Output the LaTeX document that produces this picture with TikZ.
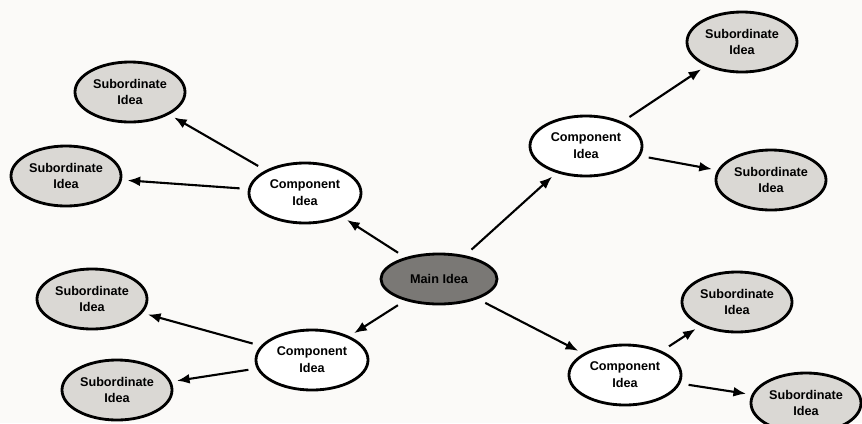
\documentclass[tikz,border=0pt]{standalone}
\usepackage{fontspec}
\setmainfont{Liberation Sans}
\usetikzlibrary{shapes.geometric,arrows.meta}
\definecolor{paper}{HTML}{FBFAF8}
\definecolor{subgray}{HTML}{DAD8D4}
\definecolor{maingray}{HTML}{7A7875}

\tikzset{
  idea/.style={ellipse, draw=black, line width=2pt, inner sep=0pt,
    align=center, font=\fontsize{9}{12}\selectfont\bfseries},
  mainidea/.style={idea, fill=maingray, minimum width=2.9cm, minimum height=1.25cm},
  compidea/.style={idea, fill=white, minimum width=2.8cm, minimum height=1.5cm},
  subidea/.style={idea, fill=subgray, minimum width=2.75cm, minimum height=1.5cm},
  link/.style={-{Latex[length=9pt,width=7pt]}, line width=1.5pt,
    shorten <=6pt, shorten >=4pt}
}

\begin{document}
\begin{tikzpicture}[x=0.025cm, y=-0.025cm]
  % paper
  \useasboundingbox (0,0) rectangle (862,423);
  \fill[paper] (0,0) rectangle (862,423);

  % main idea
  \node[mainidea] (main) at (439,279) {Main Idea};

  % component ideas
  \node[compidea] (compUL) at (305,193) {Component\\Idea};
  \node[compidea] (compUR) at (586,146) {Component\\Idea};
  \node[compidea] (compLL) at (312,360) {Component\\Idea};
  \node[compidea] (compLR) at (625,375) {Component\\Idea};

  % subordinate ideas
  \node[subidea] (subUL1) at (130,92)  {Subordinate\\Idea};
  \node[subidea] (subUL2) at (66,176)  {Subordinate\\Idea};
  \node[subidea] (subUR1) at (742,42)  {Subordinate\\Idea};
  \node[subidea] (subUR2) at (771,180) {Subordinate\\Idea};
  \node[subidea] (subLL1) at (92,299)  {Subordinate\\Idea};
  \node[subidea] (subLL2) at (117,390) {Subordinate\\Idea};
  \node[subidea] (subLR1) at (737,302) {Subordinate\\Idea};
  \node[subidea] (subLR2) at (806,403) {Subordinate\\Idea};

  % arrows
  \foreach \c in {compUL,compUR,compLL,compLR}
    \draw[link] (main) -- (\c);
  \draw[link] (compUL) -- (subUL1);
  \draw[link] (compUL) -- (subUL2);
  \draw[link] (compUR) -- (subUR1);
  \draw[link] (compUR) -- (subUR2);
  \draw[link] (compLL) -- (subLL1);
  \draw[link] (compLL) -- (subLL2);
  \draw[link] (compLR) -- (subLR1);
  \draw[link] (compLR) -- (subLR2);
\end{tikzpicture}
\end{document}
